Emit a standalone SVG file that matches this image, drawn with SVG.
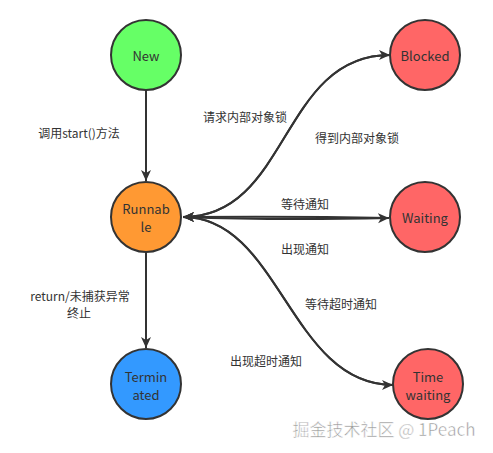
<svg xmlns="http://www.w3.org/2000/svg" width="493" height="453" viewBox="0 0 493 453">
<style>
.node{stroke:#333;stroke-width:2}
.t{font-family:"Noto Sans CJK SC","Liberation Sans",sans-serif;font-size:13px;fill:#333;text-anchor:middle;dominant-baseline:central}
.l{font-family:"Noto Sans CJK SC","Liberation Sans",sans-serif;font-size:12px;fill:#333;text-anchor:middle;dominant-baseline:central}
.c{fill:none;stroke:#333;stroke-width:2}
.wm{font-family:"Noto Sans CJK SC","Liberation Sans",sans-serif;font-size:17px;fill:#999;stroke:#fff;stroke-width:0.5;text-anchor:middle;dominant-baseline:central}
</style>
<defs>
<marker id="arr" markerUnits="userSpaceOnUse" markerWidth="14" markerHeight="12" refX="11" refY="5" orient="auto">
<path d="M0,0 L11,5 L0,10 L3,5 z" fill="#333"/>
</marker>
</defs>
<rect width="493" height="453" fill="#fff"/>
<g id="connectors">
<path class="c" d="M146,89 L146,181" marker-end="url(#arr)"/>
<path class="c" d="M146,252 L146,348" marker-end="url(#arr)"/>
<path class="c" d="M183,217 C290,217 280,55 390,55" marker-end="url(#arr)"/>
<path class="c" d="M390,55 C280,55 290,217 183,217" marker-end="url(#arr)"/>
<path class="c" d="M183,217 C250,219.5 320,219.5 389,218" marker-end="url(#arr)"/>
<path class="c" d="M389,218 C320,216.5 250,216.5 183,217" marker-end="url(#arr)"/>
<path class="c" d="M183,217 C280,217 290,385 393,385" marker-end="url(#arr)"/>
<path class="c" d="M393,385 C290,385 280,217 183,217" marker-end="url(#arr)"/>
<text class="l" x="79" y="132">调用start()方法</text>
<text class="l" x="245" y="116">请求内部对象锁</text>
<text class="l" x="357" y="137">得到内部对象锁</text>
<text class="l" x="305" y="203">等待通知</text>
<text class="l" x="305" y="248">出现通知</text>
<text class="l" x="341" y="303">等待超时通知</text>
<text class="l" x="266" y="360">出现超时通知</text>
<text class="l" x="80" y="295">return/未捕获异常</text>
<text class="l" x="79" y="312">终止</text>
</g>
<g id="new">
<circle class="node" cx="146" cy="55" r="35" fill="#66ff66"/>
<text class="t" x="146" y="55">New</text>
</g>
<g id="runnable">
<circle class="node" cx="146" cy="217" r="35" fill="#ff9933"/>
<text class="t" x="146" y="208">Runnab</text>
<text class="t" x="146" y="226">le</text>
</g>
<g id="terminated">
<circle class="node" cx="146" cy="384" r="35" fill="#3399ff"/>
<text class="t" x="146" y="376">Termin</text>
<text class="t" x="146" y="394">ated</text>
</g>
<g id="blocked">
<circle class="node" cx="425" cy="55" r="35" fill="#ff6666"/>
<text class="t" x="425" y="55">Blocked</text>
</g>
<g id="waiting">
<circle class="node" cx="425" cy="217" r="35" fill="#ff6666"/>
<text class="t" x="425" y="217">Waiting</text>
</g>
<g id="timewaiting">
<circle class="node" cx="428" cy="384" r="35" fill="#ff6666"/>
<text class="t" x="428" y="376">Time</text>
<text class="t" x="428" y="394">waiting</text>
</g>
<text class="wm" x="384" y="428">掘金技术社区 @ 1Peach</text>
</svg>
